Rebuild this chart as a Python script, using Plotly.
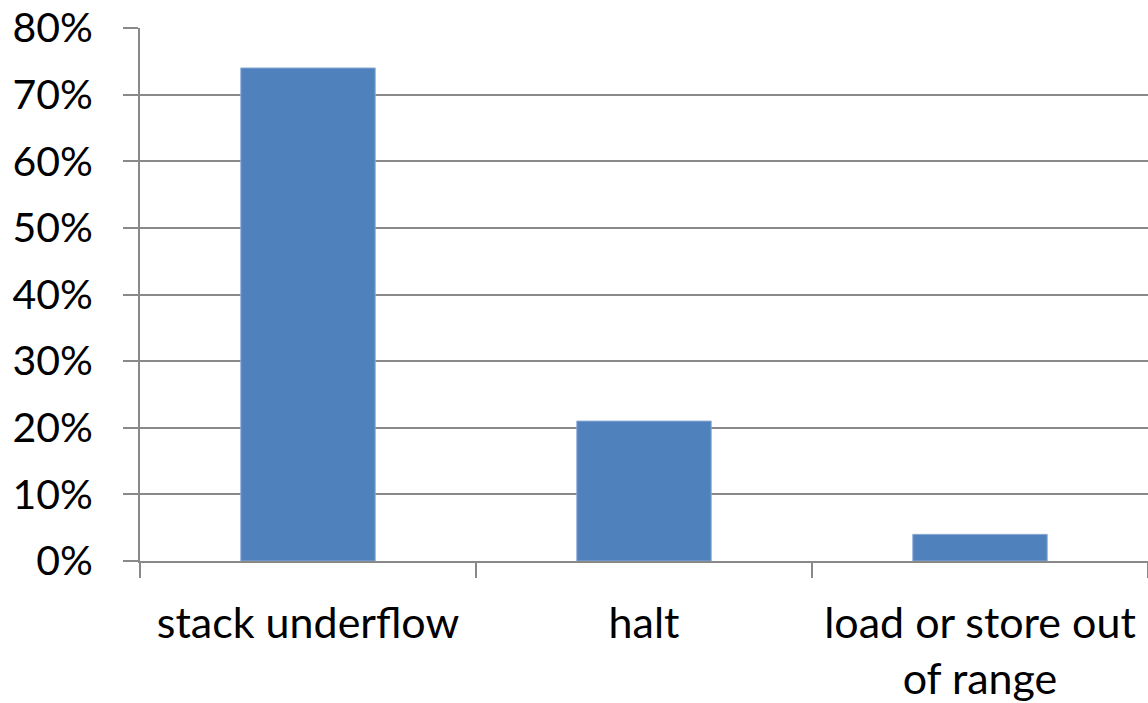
import plotly.graph_objects as go

categories = ["stack underflow", "halt", "load or store out<br>of range"]
values = [0.74, 0.21, 0.04]
y_ticks = [0, 0.1, 0.2, 0.3, 0.4, 0.5, 0.6, 0.7, 0.8]

FONT = "Lato"
GRID = "#898989"

fig = go.Figure(go.Bar(
    x=categories, y=values, width=0.4,
    marker=dict(color="#4F81BD", line=dict(color="#8CAAD3", width=1)),
))

fig.update_layout(
    width=1148, height=703,
    margin=dict(l=140, r=0, t=28, b=142, autoexpand=False),
    paper_bgcolor="white", plot_bgcolor="white",
    font=dict(family=FONT, size=40, color="black"),
    showlegend=False,
    bargap=0.6,
)
fig.update_yaxes(
    range=[0, 0.8], tickvals=y_ticks, tickformat=".0%",
    tickfont=dict(size=41),
    showgrid=True, gridcolor=GRID, gridwidth=2,
    showline=True, linecolor=GRID, linewidth=2,
    ticks="outside", ticklen=15, tickcolor=GRID, tickwidth=2,
    ticklabelstandoff=22, zeroline=False,
)
fig.update_xaxes(
    type="category", tickson="boundaries",
    tickfont=dict(size=43),
    showline=True, linecolor=GRID, linewidth=2,
    ticks="outside", ticklen=15, tickcolor=GRID, tickwidth=2,
    showgrid=False, ticklabelstandoff=23,
)

fig.write_html(
    "out.html",
    config={"displayModeBar": False},
    post_script="document.body.style.margin='0';document.body.style.overflow='hidden';",
)
